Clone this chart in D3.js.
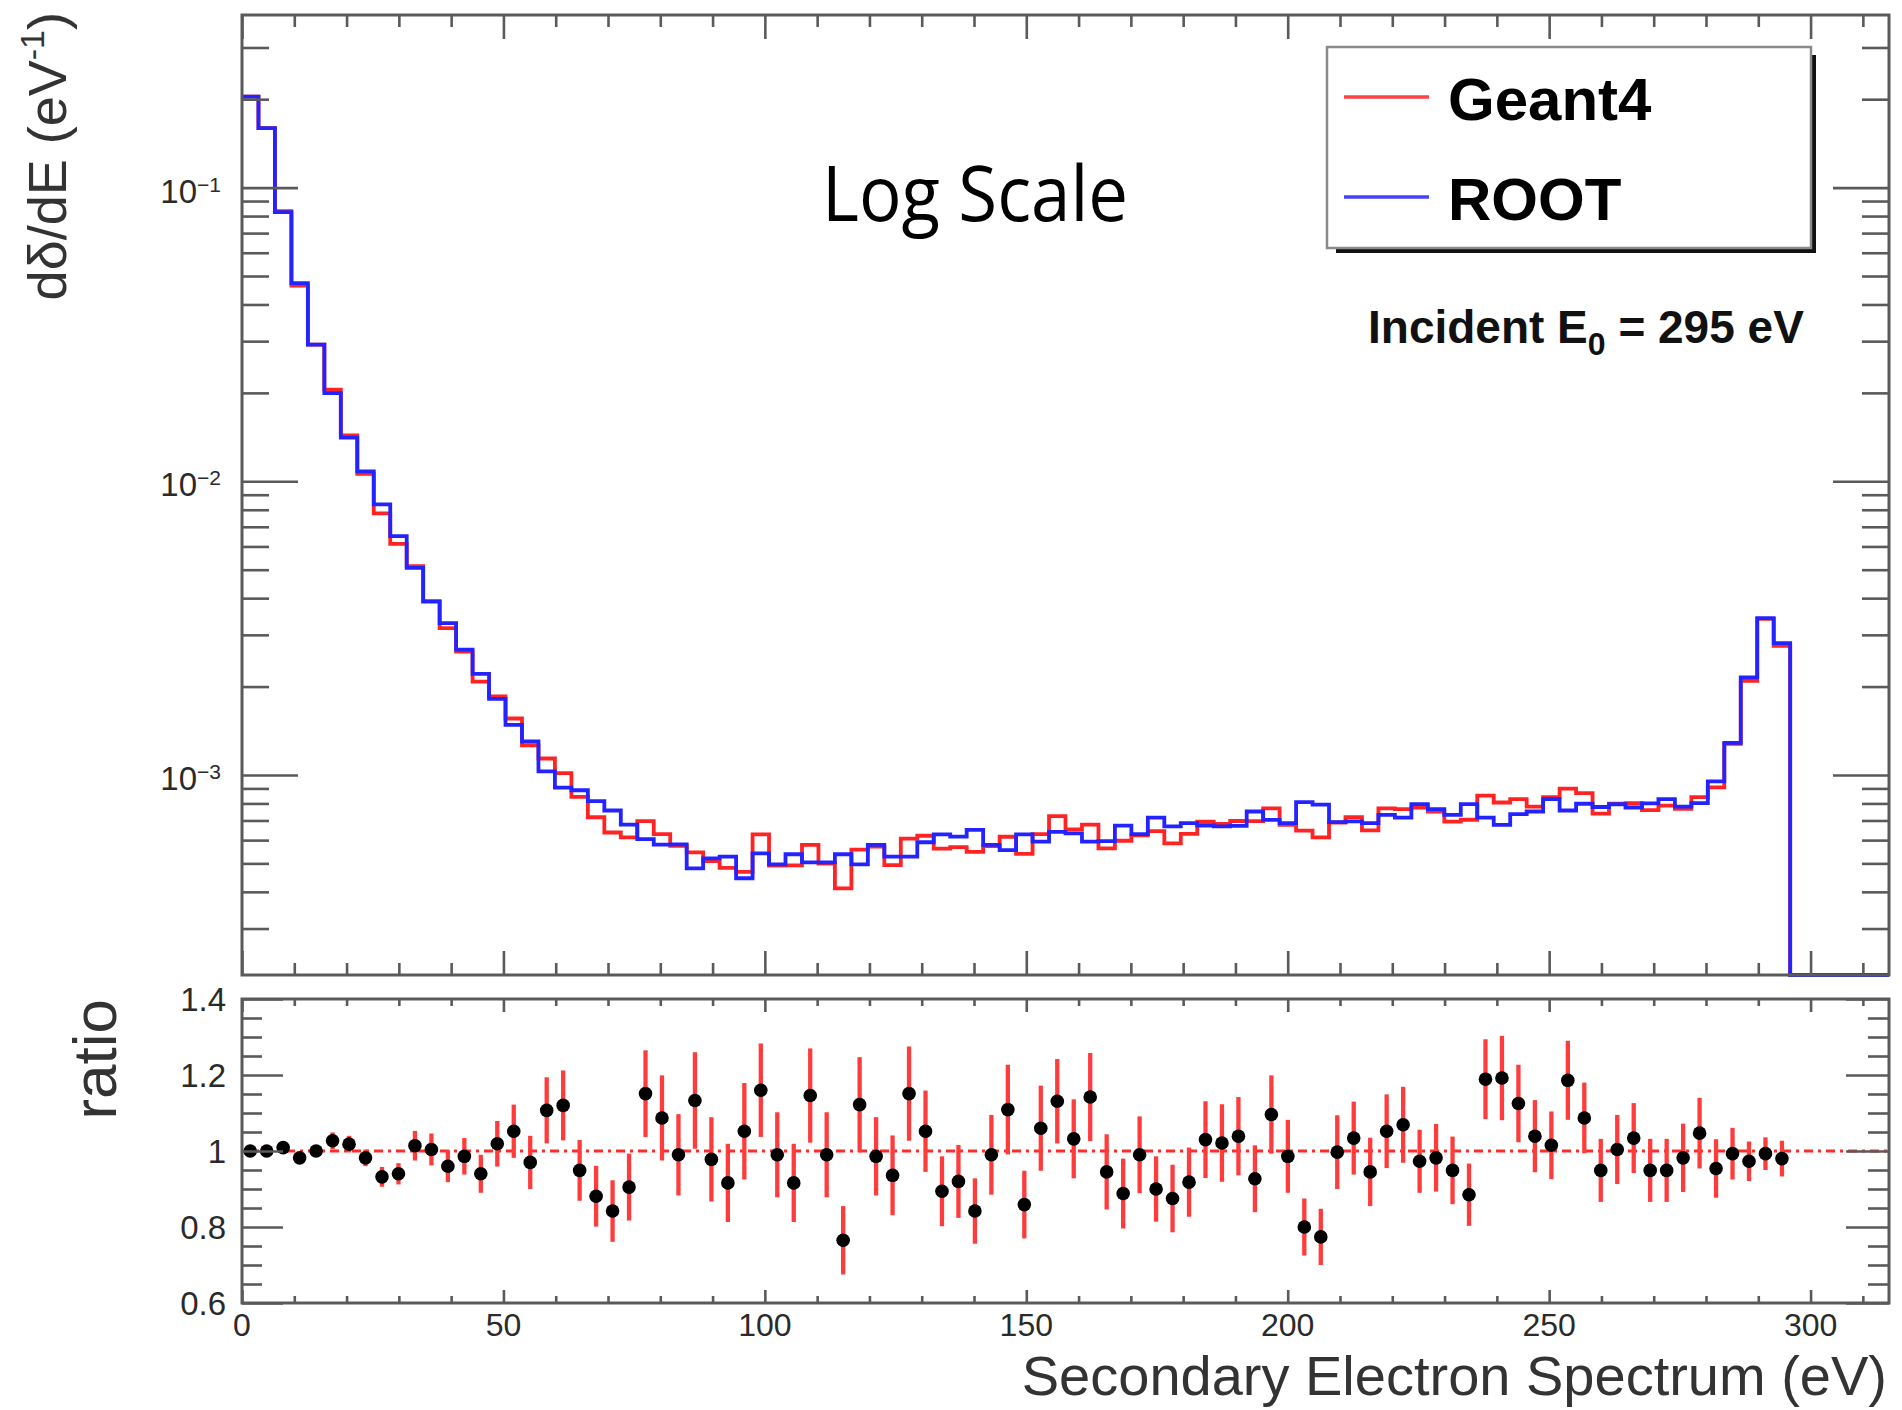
<!DOCTYPE html>
<html><head><meta charset="utf-8">
<script src="https://cdn.jsdelivr.net/npm/d3@7"></script>
<style>
body{margin:0;background:#fff;}
svg{display:block;font-family:"Liberation Sans",Arial,Helvetica,sans-serif;}
</style>
</head><body>
<svg id="c" width="1902" height="1410"></svg>
<script>
// ---------------- data ----------------
const binWidth = 3.15;          // eV per bin
const nBins = 100;              // histogram range 0..315 eV
const xDomain = [0, 315];

// ROOT (blue) dδ/dE per bin, bins 0..93 (bins 94..99 empty)
const rootValues = [
  0.204, 0.1595, 0.0825, 0.0473, 0.0292, 0.01995, 0.01409, 0.0108, 0.00834, 0.00651,
  0.00507, 0.00389, 0.00329, 0.00267, 0.00221, 0.001815, 0.00148, 0.0013, 0.001028, 0.000905,
  0.000887, 0.000815, 0.000757, 0.000677, 0.000605, 0.000579, 0.00058, 0.000481, 0.00052, 0.000527,
  0.000445, 0.000541, 0.000496, 0.000537, 0.000504, 0.000504, 0.000537, 0.000496, 0.000578, 0.000527,
  0.000527, 0.00059, 0.000628, 0.000617, 0.00065, 0.000578, 0.000555, 0.000628, 0.000593, 0.00064,
  0.000633, 0.000593, 0.000595, 0.000672, 0.000629, 0.000716, 0.000668, 0.000686, 0.000673, 0.000668,
  0.000671, 0.000751, 0.000703, 0.000686, 0.000808, 0.000792, 0.000691, 0.000695, 0.000686, 0.000731,
  0.000716, 0.000796, 0.000765, 0.000731, 0.000796, 0.000716, 0.000676, 0.000736, 0.000751, 0.000828,
  0.000757, 0.000798, 0.000778, 0.000795, 0.000775, 0.0008, 0.000828, 0.00078, 0.000802, 0.000951,
  0.001286, 0.00215, 0.00342, 0.00281
];

// Geant4 (red) dδ/dE per bin, bins 0..93
const geant4Values = [
  0.204, 0.1595, 0.0832, 0.0464, 0.0292, 0.0205, 0.01434, 0.01061, 0.00777, 0.00612,
  0.00514, 0.00391, 0.00316, 0.00263, 0.00208, 0.00185, 0.001557, 0.001261, 0.001138, 0.001014,
  0.000842, 0.000718, 0.000637, 0.000613, 0.000696, 0.000629, 0.000574, 0.000545, 0.000509, 0.000483,
  0.000468, 0.000628, 0.000491, 0.000492, 0.000578, 0.000499, 0.000411, 0.000557, 0.00057, 0.000493,
  0.000607, 0.000621, 0.000561, 0.000568, 0.000547, 0.000572, 0.000616, 0.000539, 0.000629, 0.000724,
  0.000653, 0.000677, 0.000562, 0.000597, 0.000623, 0.000644, 0.000585, 0.00063, 0.000693, 0.000682,
  0.000697, 0.000696, 0.00077, 0.000676, 0.000646, 0.000613, 0.000689, 0.000719, 0.000648, 0.000769,
  0.000765, 0.000775, 0.000751, 0.000694, 0.000704, 0.000851, 0.000806, 0.000828, 0.00078, 0.00084,
  0.000898, 0.000867, 0.000738, 0.000798, 0.000801, 0.000759, 0.000786, 0.000766, 0.00084, 0.000907,
  0.001277, 0.00209, 0.0034, 0.00275
];

// ratio Geant4/ROOT and its error, bins 0..93
const ratioValues = [
  1.0, 1.0, 1.009, 0.982, 1.0, 1.027, 1.018, 0.982, 0.932, 0.94,
  1.014, 1.004, 0.96, 0.986, 0.94, 1.019, 1.052, 0.97, 1.107, 1.12,
  0.949, 0.881, 0.842, 0.905, 1.151, 1.087, 0.99, 1.133, 0.978, 0.916,
  1.052, 1.16, 0.99, 0.916, 1.146, 0.99, 0.765, 1.122, 0.986, 0.936,
  1.151, 1.052, 0.894, 0.92, 0.842, 0.99, 1.109, 0.859, 1.06, 1.131,
  1.032, 1.142, 0.945, 0.888, 0.99, 0.9, 0.875, 0.918, 1.03, 1.021,
  1.039, 0.927, 1.096, 0.986, 0.8, 0.774, 0.997, 1.034, 0.945, 1.052,
  1.069, 0.973, 0.982, 0.949, 0.885, 1.189, 1.192, 1.125, 1.039, 1.015,
  1.186, 1.087, 0.949, 1.004, 1.034, 0.949, 0.949, 0.982, 1.047, 0.954,
  0.993, 0.973, 0.993, 0.98
];
const ratioErrors = [
  0.004, 0.005, 0.006, 0.008, 0.01, 0.022, 0.022, 0.022, 0.026, 0.028,
  0.039, 0.042, 0.042, 0.048, 0.05, 0.06, 0.07, 0.07, 0.087, 0.092,
  0.08, 0.08, 0.081, 0.088, 0.114, 0.112, 0.107, 0.127, 0.111, 0.103,
  0.127, 0.123, 0.112, 0.103, 0.124, 0.112, 0.09, 0.125, 0.103, 0.105,
  0.124, 0.107, 0.092, 0.096, 0.086, 0.105, 0.118, 0.089, 0.112, 0.111,
  0.104, 0.116, 0.099, 0.092, 0.101, 0.086, 0.089, 0.091, 0.101, 0.102,
  0.103, 0.088, 0.103, 0.096, 0.075, 0.074, 0.097, 0.096, 0.09, 0.097,
  0.1, 0.083, 0.089, 0.089, 0.082, 0.105, 0.111, 0.102, 0.095, 0.089,
  0.104, 0.093, 0.083, 0.091, 0.092, 0.083, 0.083, 0.09, 0.093, 0.077,
  0.068, 0.052, 0.043, 0.047
];

const xMajorTicks = [0, 50, 100, 150, 200, 250, 300];
const xTickLabels = ["0", "50", "100", "150", "200", "250", "300"];
const logMajorTicks = [0.1, 0.01, 0.001];
const logTickExponents = ["\u22121", "\u22122", "\u22123"];
const ratioMajorTicks = [0.6, 0.8, 1.0, 1.2, 1.4];
const ratioTickLabels = ["0.6", "0.8", "1", "1.2", "1.4"];
const seriesNames = ["Geant4", "ROOT"];
const seriesColors = ["#ff2323", "#2323ff"];

// ---------------- layout ----------------
const svg = d3.select("#c");
const L = 242, R = 1889;
const topY0 = 15, topY1 = 975;
const ratY0 = 999, ratY1 = 1303;
const axisCol = "#5a5a5a";
const textCol = "#2a2a2a";

const x = d3.scaleLinear().domain(xDomain).range([L, R]);
const y = d3.scaleLog().domain([2.084e-4, 0.387]).range([topY1, topY0]);
const yr = d3.scaleLinear().domain([0.6, 1.4]).range([ratY1, ratY0]);

const xMinor = d3.range(0, 316, 10).filter(v => v % 50 !== 0);
const logMinor = y.ticks().filter(v => !logMajorTicks.some(m => Math.abs(v - m) / m < 1e-6));
const ratioMinor = d3.range(0.65, 1.4, 0.05).filter(v => Math.abs(v * 5 - Math.round(v * 5)) > 1e-6);

function styleAxis(g) {
  g.select(".domain").remove();
  g.attr("color", axisCol);
  g.selectAll(".tick line").attr("stroke-width", 2.6);
  g.selectAll("text").remove();
}
function addAxis(axis, tx, ty) {
  svg.append("g").attr("transform", `translate(${tx},${ty})`).call(axis).call(styleAxis);
}

// ---------- top panel ----------
function stepPoints(vals) {
  const pts = [];
  for (let i = 0; i < nBins; i++) {
    const v = i < vals.length ? vals[i] : 0;
    const yy = v > 0 ? y(v) : topY1;
    pts.push([x(i * binWidth), yy], [x((i + 1) * binWidth), yy]);
  }
  return pts;
}
const line = d3.line();
[geant4Values, rootValues].forEach((vals, k) => {
  svg.append("path").attr("d", line(stepPoints(vals)))
    .attr("fill", "none").attr("stroke", seriesColors[k])
    .attr("stroke-width", 3.8).attr("stroke-linejoin", "miter");
});

svg.append("rect").attr("x", L).attr("y", topY0).attr("width", R - L).attr("height", topY1 - topY0)
  .attr("fill", "none").attr("stroke", axisCol).attr("stroke-width", 3);
addAxis(d3.axisTop(x).tickValues(xMinor).tickSize(12), 0, topY1);
addAxis(d3.axisTop(x).tickValues(xMajorTicks).tickSize(24), 0, topY1);
addAxis(d3.axisBottom(x).tickValues(xMinor).tickSize(12), 0, topY0);
addAxis(d3.axisBottom(x).tickValues(xMajorTicks).tickSize(24), 0, topY0);
addAxis(d3.axisRight(y).tickValues(logMinor).tickSize(27), L, 0);
addAxis(d3.axisRight(y).tickValues(logMajorTicks).tickSize(56), L, 0);
addAxis(d3.axisLeft(y).tickValues(logMinor).tickSize(27), R, 0);
addAxis(d3.axisLeft(y).tickValues(logMajorTicks).tickSize(56), R, 0);

logMajorTicks.forEach((v, i) => {
  const t = svg.append("text").attr("x", 221).attr("y", y(v) + 15)
    .attr("text-anchor", "end").attr("fill", textCol).attr("font-size", 33);
  t.append("tspan").text("10");
  t.append("tspan").attr("font-size", 21).attr("dy", -11).text(logTickExponents[i]);
});

const yt = svg.append("text").attr("transform", "translate(66,12) rotate(-90)")
  .attr("text-anchor", "end").attr("fill", "#333").attr("font-size", 54);
yt.append("tspan").text("d\u03b4/dE (eV");
yt.append("tspan").attr("font-size", 34).attr("dy", -22).text("-1");
yt.append("tspan").attr("dy", 22).text(")");

svg.append("text").attr("x", 822).attr("y", 221).attr("font-family", "'Open Sans', sans-serif")
  .attr("font-size", 76).attr("fill", "#000").attr("textLength", 306).attr("lengthAdjust", "spacingAndGlyphs")
  .text("Log Scale");

// legend
svg.append("rect").attr("x", 1336).attr("y", 55).attr("width", 480).attr("height", 198).attr("fill", "#111");
svg.append("rect").attr("x", 1327).attr("y", 47).attr("width", 484).attr("height", 201)
  .attr("fill", "#fff").attr("stroke", "#8a8a8a").attr("stroke-width", 2.5);
const legY = [97, 197];
seriesNames.forEach((n, k) => {
  svg.append("line").attr("x1", 1344).attr("x2", 1429).attr("y1", legY[k]).attr("y2", legY[k])
    .attr("stroke", seriesColors[k]).attr("stroke-width", 3.6).attr("opacity", 0.85);
  svg.append("text").attr("x", 1448).attr("y", legY[k] + 23).attr("font-size", 60)
    .attr("font-weight", "bold").attr("fill", "#000").text(n);
});

const inc = svg.append("text").attr("x", 1368).attr("y", 343).attr("font-size", 46)
  .attr("font-weight", "bold").attr("fill", "#111");
inc.append("tspan").text("Incident E");
inc.append("tspan").attr("font-size", 32).attr("dy", 12).text("0");
inc.append("tspan").attr("dy", -12).text(" = 295 eV");

// ---------- ratio panel ----------
svg.append("line").attr("x1", x(xDomain[0])).attr("x2", x(xDomain[1]))
  .attr("y1", yr(1)).attr("y2", yr(1))
  .attr("stroke", "#ff2a2a").attr("stroke-width", 3).attr("stroke-dasharray", "9,5,3,5");

const centers = ratioValues.map((_, i) => (i + 0.5) * binWidth);
svg.append("g").selectAll("line").data(ratioValues).join("line")
  .attr("x1", (d, i) => x(centers[i])).attr("x2", (d, i) => x(centers[i]))
  .attr("y1", (d, i) => yr(d - ratioErrors[i])).attr("y2", (d, i) => yr(d + ratioErrors[i]))
  .attr("stroke", "#ff3c3c").attr("stroke-width", 4.3);
svg.append("g").selectAll("circle").data(ratioValues).join("circle")
  .attr("cx", (d, i) => x(centers[i])).attr("cy", d => yr(d)).attr("r", 6.8).attr("fill", "#000");

svg.append("rect").attr("x", L).attr("y", ratY0).attr("width", R - L).attr("height", ratY1 - ratY0)
  .attr("fill", "none").attr("stroke", axisCol).attr("stroke-width", 3);
addAxis(d3.axisTop(x).tickValues(xMinor).tickSize(7), 0, ratY1);
addAxis(d3.axisTop(x).tickValues(xMajorTicks).tickSize(13), 0, ratY1);
addAxis(d3.axisBottom(x).tickValues(xMinor).tickSize(7), 0, ratY0);
addAxis(d3.axisBottom(x).tickValues(xMajorTicks).tickSize(13), 0, ratY0);
addAxis(d3.axisRight(yr).tickValues(ratioMinor).tickSize(20), L, 0);
addAxis(d3.axisRight(yr).tickValues(ratioMajorTicks).tickSize(41), L, 0);
addAxis(d3.axisLeft(yr).tickValues(ratioMinor).tickSize(21), R, 0);
addAxis(d3.axisLeft(yr).tickValues(ratioMajorTicks).tickSize(43), R, 0);

ratioMajorTicks.forEach((v, i) => {
  svg.append("text").attr("x", 226).attr("y", yr(v) + 12).attr("text-anchor", "end")
    .attr("font-size", 33).attr("fill", textCol).text(ratioTickLabels[i]);
});
xMajorTicks.forEach((v, i) => {
  svg.append("text").attr("x", x(v)).attr("y", 1336).attr("text-anchor", "middle")
    .attr("font-size", 32).attr("fill", textCol).text(xTickLabels[i]);
});

svg.append("text").attr("transform", "translate(116,999) rotate(-90)").attr("text-anchor", "end")
  .attr("font-size", 62).attr("fill", "#333").text("ratio");
svg.append("text").attr("x", 1887).attr("y", 1395).attr("text-anchor", "end")
  .attr("font-size", 56).attr("fill", "#333").text("Secondary Electron Spectrum (eV)");
</script>
</body></html>
